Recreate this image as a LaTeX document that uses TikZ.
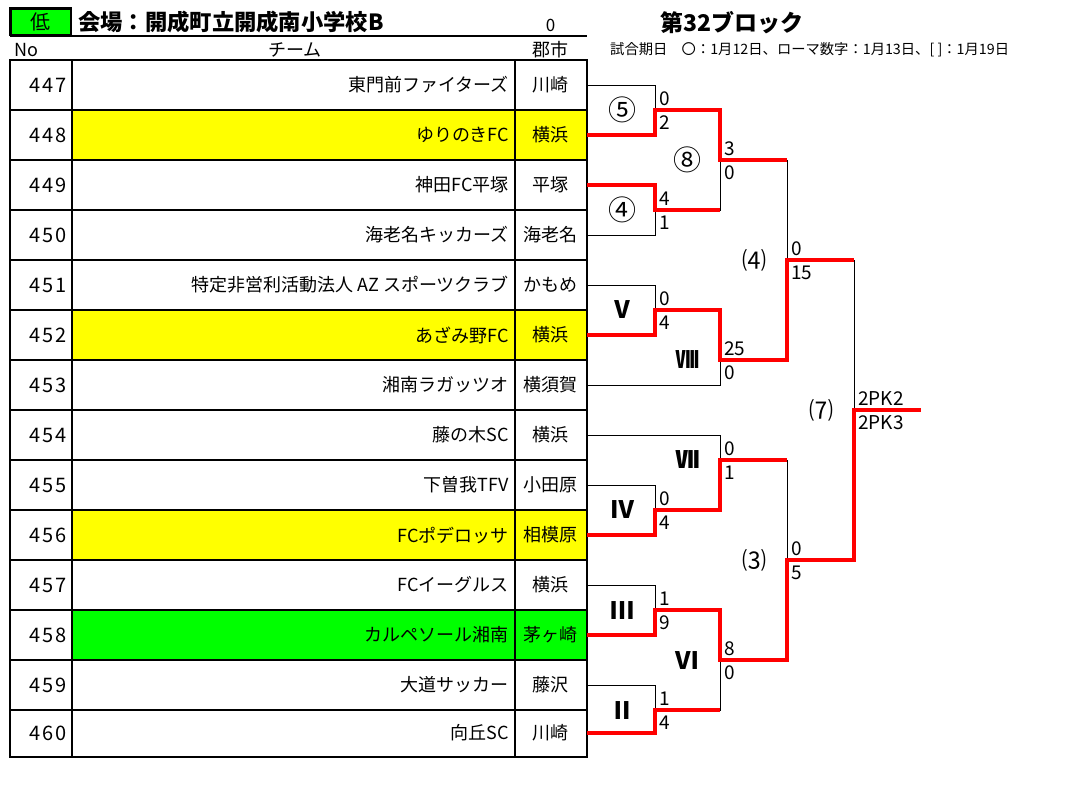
\documentclass[tikz,border=0pt]{standalone}
\usepackage{fontspec}
\setmainfont{Noto Sans CJK JP}
\newfontfamily\numfont{Noto Sans CJK JP}[LetterSpace=10]
\definecolor{cellyellow}{HTML}{FFFF00}
\definecolor{cellgreen}{HTML}{00FF00}
\definecolor{winred}{HTML}{FF0000}

\begin{document}
\begin{tikzpicture}[x=1pt,y=-1pt]
  \tikzstyle{tabline}=[draw=black,line width=1.2pt]
  \tikzstyle{br}=[draw=black,line width=1pt,to path={-| (\tikztotarget)}]
  \tikzstyle{win}=[draw=winred,line width=3.2pt]
  \tikzstyle{num}=[anchor=east,inner sep=0pt,font=\numfont\fontsize{20}{22}\selectfont]
  \tikzstyle{team}=[anchor=east,inner sep=0pt,font=\fontsize{18}{20}\selectfont]
  \tikzstyle{city}=[inner sep=0pt,font=\fontsize{18}{20}\selectfont]
  \tikzstyle{sc}=[anchor=west,inner sep=0pt,xshift=4pt,font=\fontsize{19}{21}\selectfont]
  \tikzstyle{hi}=[yshift=11.5pt]
  \tikzstyle{lo}=[yshift=-12.5pt]
  \tikzstyle{lbl}=[inner sep=0pt,xshift=-33pt,font=\bfseries\fontsize{24}{26}\selectfont]
  \tikzstyle{lblc}=[inner sep=0pt,xshift=-33pt,font=\fontsize{28}{30}\selectfont]
  \tikzstyle{lblp}=[inner sep=0pt,xshift=-33pt,font=\fontsize{24}{26}\selectfont]

  \useasboundingbox (0,0) rectangle (1075,785);

  % header
  \node[draw,fill=cellgreen,line width=2.3pt,minimum width=60.6pt,minimum height=26.4pt,
        inner sep=0pt,font=\fontsize{20}{22}\selectfont] (low) at (40.8,21.7) {低};
  \node[anchor=west,inner sep=0pt,font=\bfseries\fontsize{22.3}{24}\selectfont] (venue) at (78,22) {会場：開成町立開成南小学校B};
  \node[inner sep=0pt,font=\fontsize{17}{19}\selectfont] (zero) at (550.7,25) {0};
  \node[anchor=west,inner sep=0pt,font=\bfseries\fontsize{23}{25}\selectfont] (block) at (660,22.5) {第32ブロック};
  \node[anchor=west,inner sep=0pt,font=\fontsize{14.3}{16}\selectfont] (dates) at (610,50) {試合期日　〇：1月12日、ローマ数字：1月13日、[ ]：1月19日};
  \draw[tabline] (10,36) -- (587,36);
  \node[anchor=west,inner sep=0pt,font=\fontsize{18}{20}\selectfont] (hno) at (14,50) {No};
  \node[inner sep=0pt,font=\fontsize{18}{20}\selectfont] (hteam) at (295,50) {チーム};
  \node[inner sep=0pt,font=\fontsize{18}{20}\selectfont] (hcity) at (550.7,50) {郡市};

  % table
  \foreach \no/\team/\city/\col/\y in {
      447/東門前ファイターズ/川崎/white/85,
      448/ゆりのきFC/横浜/cellyellow/135,
      449/神田FC平塚/平塚/white/185,
      450/海老名キッカーズ/海老名/white/235,
      451/特定非営利活動法人 AZ スポーツクラブ/かもめ/white/285,
      452/あざみ野FC/横浜/cellyellow/335,
      453/湘南ラガッツオ/横須賀/white/385,
      454/藤の木SC/横浜/white/435,
      455/下曽我TFV/小田原/white/485,
      456/FCポデロッサ/相模原/cellyellow/535,
      457/FCイーグルス/横浜/white/585,
      458/カルペソール湘南/茅ヶ崎/cellgreen/635,
      459/大道サッカー/藤沢/white/685,
      460/向丘SC/川崎/white/733}{
    \fill[\col] (72,\y-25) rectangle (587,\y+25);
    \node[num]  (n\no)  at (67,\y)    {\no};
    \node[team] (tm\no) at (509,\y)   {\team};
    \node[city] (ct\no) at (550.7,\y) {\city};
    \coordinate (e\no) at (587,\y);
  }
  \draw[tabline] (10,60) rectangle (587,757);
  \foreach \k in {1,...,13}
    \draw[tabline] (10,{60+50*\k}) -- (587,{60+50*\k});
  \draw[tabline] (72,60) -- (72,757);
  \draw[tabline] (515,60) -- (515,757);

  % match points
  \coordinate (m5)    at (655,110);
  \coordinate (m4)    at (655,210);
  \coordinate (mV)    at (655,310);
  \coordinate (mIV)   at (655,510);
  \coordinate (mIII)  at (655,610);
  \coordinate (mII)   at (655,710);
  \coordinate (m8)    at (720,160);
  \coordinate (mVIII) at (720,360);
  \coordinate (mVII)  at (720,460);
  \coordinate (mVI)   at (720,660);
  \coordinate (q4)    at (787,260);
  \coordinate (q3)    at (787,560);
  \coordinate (f7)    at (854,410);
  \coordinate (fin)   at (921,410);

  % bracket
  \path (e447) edge[br] (m5)    (e448) edge[br] (m5)
        (e449) edge[br] (m4)    (e450) edge[br] (m4)
        (e451) edge[br] (mV)    (e452) edge[br] (mV)
        (m5)   edge[br] (m8)    (m4)   edge[br] (m8)
        (mV)   edge[br] (mVIII) (e453) edge[br] (mVIII)
        (m8)   edge[br] (q4)    (mVIII) edge[br] (q4)
        (e454) edge[br] (mVII)  (e455) edge[br] (mIV)
        (e456) edge[br] (mIV)   (mIV)  edge[br] (mVII)
        (e457) edge[br] (mIII)  (e458) edge[br] (mIII)
        (e459) edge[br] (mII)   (e460) edge[br] (mII)
        (mIII) edge[br] (mVI)   (mII)  edge[br] (mVI)
        (mVII) edge[br] (q3)    (mVI)  edge[br] (q3)
        (q4)   edge[br] (f7)    (q3)   edge[br] (f7);

  % winners
  \draw[win] (e448) -| (m5) -| (m8) -- (m8 -| q4);
  \draw[win] (e449) -| (m4) -- (m4 -| m8);
  \draw[win] (e452) -| (mV) -| (mVIII) -| (q4) -- (q4 -| f7);
  \draw[win] (e456) -| (mIV) -| (mVII) -- (mVII -| q3);
  \draw[win] (e458) -| (mIII) -| (mVI) -| (q3) -| (f7) -- (fin);
  \draw[win] (e460) -| (mII) -- (mII -| mVI);

  % match labels
  \node[lblc] (l5)    at (m5)    {⑤};
  \node[lblc] (l4)    at (m4)    {④};
  \node[lbl]  (lV)    at (mV)    {Ⅴ};
  \node[lbl]  (lIV)   at (mIV)   {Ⅳ};
  \node[lbl]  (lIII)  at (mIII)  {Ⅲ};
  \node[lbl]  (lII)   at (mII)   {Ⅱ};
  \node[lblc] (l8)    at (m8)    {⑧};
  \node[lbl]  (lVIII) at (mVIII) {Ⅷ};
  \node[lbl]  (lVII)  at (mVII)  {Ⅶ};
  \node[lbl]  (lVI)   at (mVI)   {Ⅵ};
  \node[lblp] (lq4)   at (q4)    {⑷};
  \node[lblp] (lq3)   at (q3)    {⑶};
  \node[lblp] (lf7)   at (f7)    {⑺};

  % scores
  \node[sc,hi] at (m5)    {0};   \node[sc,lo] at (m5)    {2};
  \node[sc,hi] at (m4)    {4};   \node[sc,lo] at (m4)    {1};
  \node[sc,hi] at (mV)    {0};   \node[sc,lo] at (mV)    {4};
  \node[sc,hi] at (mIV)   {0};   \node[sc,lo] at (mIV)   {4};
  \node[sc,hi] at (mIII)  {1};   \node[sc,lo] at (mIII)  {9};
  \node[sc,hi] at (mII)   {1};   \node[sc,lo] at (mII)   {4};
  \node[sc,hi] at (m8)    {3};   \node[sc,lo] at (m8)    {0};
  \node[sc,hi] at (mVIII) {25};  \node[sc,lo] at (mVIII) {0};
  \node[sc,hi] at (mVII)  {0};   \node[sc,lo] at (mVII)  {1};
  \node[sc,hi] at (mVI)   {8};   \node[sc,lo] at (mVI)   {0};
  \node[sc,hi] at (q4)    {0};   \node[sc,lo] at (q4)    {15};
  \node[sc,hi] at (q3)    {0};   \node[sc,lo] at (q3)    {5};
  \node[sc,hi] at (f7)    {2PK2}; \node[sc,lo] at (f7)   {2PK3};
\end{tikzpicture}
\end{document}
